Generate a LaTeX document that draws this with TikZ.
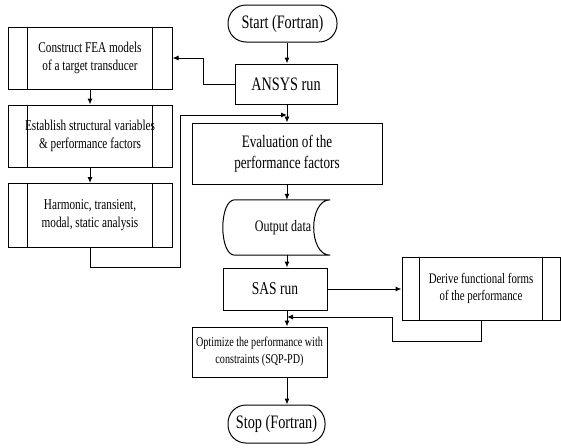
\documentclass[tikz,border=0pt]{standalone}
\usepackage{fontspec}
\setmainfont[FakeStretch=0.75]{Liberation Serif}
\usetikzlibrary{arrows.meta,calc}
\tikzset{
  box/.style={draw, line width=1pt, inner sep=0pt, align=center},
  term/.style={box, rounded corners=18pt},
  arr/.style={line width=1pt, -{Latex[length=6pt,width=5pt]}},
  ln/.style={line width=1pt},
  fs/.style n args={2}{font={\fontsize{#1}{#2}\selectfont}},
}
\begin{document}
\begin{tikzpicture}[x=1pt,y=-1pt]
\useasboundingbox (0,0) rectangle (561,447);
% left column
\node[box, fs={15}{18}, minimum width=164pt, minimum height=62pt] (b1) at (90,58)
  {Construct FEA models\\ of a target transducer};
\node[box, fs={15}{18}, minimum width=164pt, minimum height=62pt] (b2) at (90,136)
  {Establish structural variables\\ \& performance factors};
\node[box, fs={15}{18}, minimum width=164pt, minimum height=64pt] (b3) at (90,215.5)
  {Harmonic, transient,\\ modal, static analysis};
\foreach \b in {b1,b2,b3}{
  \draw[ln] ([xshift=20pt]\b.north west) -- ([xshift=20pt]\b.south west);
  \draw[ln] ([xshift=-20pt]\b.north east) -- ([xshift=-20pt]\b.south east);
}
% main column
\node[term, fs={19}{22}, minimum width=109pt, minimum height=37pt] (start) at (282.5,23.5)
  {Start (Fortran)};
\node[box, fs={19}{22}, minimum width=102pt, minimum height=40pt] (ansys) at (286,84)
  {ANSYS run};
\node[box, fs={17.5}{20.5}, minimum width=190pt, minimum height=61pt] (eval) at (287,153.5)
  {Evaluation of the\\ performance factors};
\node[inner sep=0pt, minimum width=107pt, minimum height=55pt] (out) at (276.5,227.5) {};
\draw[ln] ([xshift=12pt]out.north west) -- (out.north east)
  .. controls ([xshift=-22pt]out.north east) and ([xshift=-22pt]out.south east) .. (out.south east)
  -- ([xshift=12pt]out.south west)
  .. controls ([xshift=-4pt]out.south west) and ([xshift=-4pt]out.north west) .. ([xshift=12pt]out.north west) -- cycle;
\node[inner sep=0pt, fs={16}{19}] (outtxt) at (283,227.5) {Output data};
\node[box, fs={18}{21}, minimum width=104pt, minimum height=42pt] (sas) at (275,289)
  {SAS run};
\node[box, fs={14.5}{17.5}, minimum width=158pt, minimum height=63pt] (der) at (481,288.5)
  {Derive functional forms\\ of the performance};
\draw[ln] ([xshift=18pt]der.north west) -- ([xshift=18pt]der.south west);
\draw[ln] ([xshift=-18pt]der.north east) -- ([xshift=-18pt]der.south east);
\node[box, fs={13.5}{17}, minimum width=135pt, minimum height=50pt] (opt) at (259.5,352)
  {Optimize the performance with\\ constraints (SQP-PD)};
\node[term, fs={19}{22}, minimum width=97pt, minimum height=38pt] (stop) at (276.5,424)
  {Stop (Fortran)};
% spine
\coordinate (sp) at (287,0);
\coordinate (jn) at (287,115);
\coordinate (jn2) at (287,317);
% connectors
\draw[arr] (start.south -| sp) -- (ansys.north -| sp);
\draw[arr] (ansys.west) -- ++(-31,0) |- (b1.east);
\draw[arr] (b1.south) -- (b2.north);
\draw[arr] (b2.south) -- (b3.north);
\draw[arr] (b3.south) -- ++(0,19) -- ++(90,0) |- (jn);
\draw[arr] (ansys.south -| sp) -- (eval.north -| sp);
\draw[arr] (eval.south -| sp) -- (out.north -| sp);
\draw[arr] (out.south -| sp) -- (sas.north -| sp);
\draw[arr] (sas.east) -- (der.west |- sas.east);
\draw[arr] (sas.south -| sp) -- (opt.north -| sp);
\draw[arr] (der.south) -- ++(0,21) -- ++(-89,0) |- (jn2);
\draw[arr] (opt.south -| sp) -- (stop.north -| sp);
\end{tikzpicture}
\end{document}
